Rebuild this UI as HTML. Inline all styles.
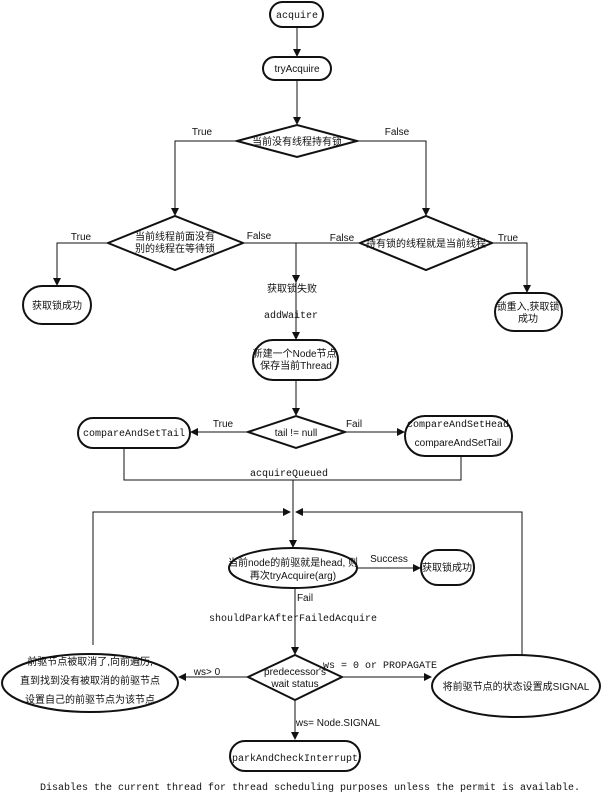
<!DOCTYPE html>
<html><head><meta charset="utf-8"><style>
body{margin:0;background:#fff}
svg text{font-family:"Liberation Sans","Noto Sans CJK SC",sans-serif;font-size:10px;fill:#111}
svg text.m{font-family:"Liberation Mono","Noto Sans CJK SC",monospace}
</style></head><body>
<svg width="601" height="800" viewBox="0 0 601 800" xmlns="http://www.w3.org/2000/svg">
<defs><marker id="a" markerWidth="8" markerHeight="8" refX="7" refY="4" orient="auto" markerUnits="userSpaceOnUse"><path d="M0,0 L8,4 L0,8 z" fill="#111"/></marker></defs>
<g fill="none" stroke="#111" stroke-width="1">
<path d="M297,27 V56" marker-end="url(#a)"/>
<path d="M297,80 V124" marker-end="url(#a)"/>
<path d="M237,141 H175 V215" marker-end="url(#a)"/>
<path d="M357,141 H426 V215" marker-end="url(#a)"/>
<path d="M108,243 H57 V285" marker-end="url(#a)"/>
<path d="M492,243 H527 V292" marker-end="url(#a)"/>
<path d="M243,243 H360"/>
<path d="M296,243 V282" marker-end="url(#a)"/>
<path d="M296,282 V339" marker-end="url(#a)"/>
<path d="M296,380 V415" marker-end="url(#a)"/>
<path d="M248,432 H191" marker-end="url(#a)"/>
<path d="M345,432 H404" marker-end="url(#a)"/>
<path d="M124,448 V480 H461 V456"/>
<path d="M293,480 V547" marker-end="url(#a)"/>
<path d="M93,645 V512 H290" marker-end="url(#a)"/>
<path d="M522,655 V512 H296" marker-end="url(#a)"/>
<path d="M358,568 H420" marker-end="url(#a)"/>
<path d="M295,588 V654" marker-end="url(#a)"/>
<path d="M248,677 H179" marker-end="url(#a)"/>
<path d="M342,677 H431" marker-end="url(#a)"/>
<path d="M295,700 V739" marker-end="url(#a)"/>
</g>
<g fill="#fff" stroke="#111" stroke-width="2">
<rect x="270" y="2" width="53" height="25" rx="12.5"/>
<rect x="263" y="57" width="68" height="23" rx="11.5"/>
<polygon points="237,141 297,125 357,141 297,157"/>
<polygon points="108,243 175,216 243,243 175,270"/>
<polygon points="360,243 426,216 492,243 426,270"/>
<rect x="23" y="286" width="68" height="38" rx="19"/>
<rect x="495" y="293" width="67" height="38" rx="19"/>
<rect x="253" y="340" width="85" height="40" rx="20"/>
<polygon points="248,432 296,416 345,432 296,448"/>
<rect x="78" y="418" width="112" height="30" rx="15"/>
<rect x="405" y="416" width="107" height="40" rx="20"/>
<ellipse cx="293" cy="568" rx="64" ry="20"/>
<rect x="421" y="550" width="53" height="35" rx="17"/>
<polygon points="248,677 295,655 342,677 295,700"/>
<ellipse cx="90" cy="683" rx="88" ry="29"/>
<ellipse cx="516" cy="686" rx="84" ry="31"/>
<rect x="230" y="741" width="130" height="30" rx="15"/>
</g>
<g text-anchor="middle">
<text class="m" x="297" y="18">acquire</text>
<text x="297" y="72">tryAcquire</text>
<text x="297" y="145">当前没有线程持有锁</text>
<text x="202" y="135">True</text>
<text x="397" y="135">False</text>
<text x="175" y="240">当前线程前面没有</text>
<text x="175" y="252">别的线程在等待锁</text>
<text x="426" y="247">持有锁的线程就是当前线程</text>
<text x="81" y="240">True</text>
<text x="259" y="239">False</text>
<text x="342" y="241">False</text>
<text x="508" y="241">True</text>
<text x="57" y="309">获取锁成功</text>
<text x="528" y="310">锁重入,获取锁</text>
<text x="528" y="322">成功</text>
<text x="292" y="292">获取锁失败</text>
<text class="m" x="291" y="318">addWaiter</text>
<text x="296" y="357">新建一个Node节点,</text>
<text x="296" y="369">保存当前Thread</text>
<text x="296" y="436">tail != null</text>
<text x="223" y="427">True</text>
<text x="354" y="427">Fail</text>
<text class="m" x="134" y="436">compareAndSetTail</text>
<text class="m" x="458" y="427">compareAndSetHead</text>
<text x="458" y="446">compareAndSetTail</text>
<text class="m" x="289" y="476">acquireQueued</text>
<text x="293" y="566">当前node的前驱就是head, 则</text>
<text x="293" y="579">再次tryAcquire(arg)</text>
<text x="389" y="562">Success</text>
<text x="447" y="571">获取锁成功</text>
<text x="305" y="601">Fail</text>
<text class="m" x="293" y="621">shouldParkAfterFailedAcquire</text>
<text x="295" y="675">predecessor's</text>
<text x="295" y="687">wait status</text>
<text x="207" y="675">ws&gt; 0</text>
<text class="m" x="380" y="668">ws = 0 or PROPAGATE</text>
<text x="90" y="665">前驱节点被取消了,向前遍历,</text>
<text x="90" y="684">直到找到没有被取消的前驱节点</text>
<text x="90" y="703">设置自己的前驱节点为该节点</text>
<text x="516" y="690">将前驱节点的状态设置成SIGNAL</text>
<text x="338" y="726">ws= Node.SIGNAL</text>
<text class="m" x="295" y="761">parkAndCheckInterrupt</text>
<text class="m" x="310" y="790">Disables the current thread for thread scheduling purposes unless the permit is available.</text>
</g>
</svg>
</body></html>
